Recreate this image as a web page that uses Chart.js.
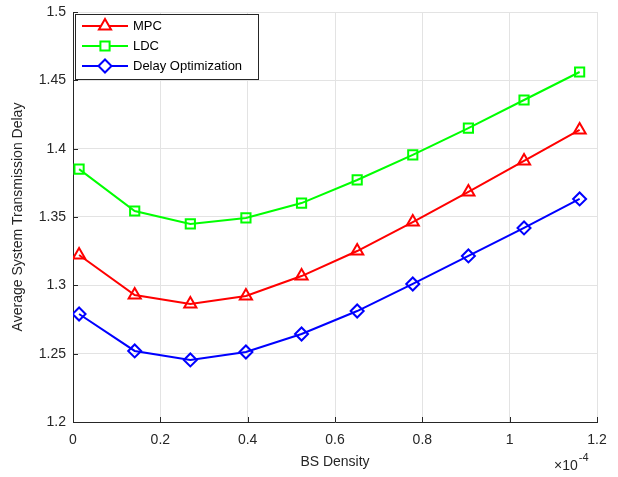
<!DOCTYPE html>
<html>
<head>
<meta charset="utf-8">
<script src="https://cdn.jsdelivr.net/npm/chart.js@4"></script>
<style>
  html, body { margin: 0; padding: 0; background: #fff; }
  #wrap { width: 618px; height: 477px; }
</style>
</head>
<body>
<div id="wrap"><canvas id="myChart" width="618" height="477"></canvas></div>
<script>
// BS density (x 1e-4)
const density = [0.0139, 0.1413, 0.2687, 0.396, 0.5234, 0.6508, 0.7781, 0.9055, 1.0329, 1.1602];
const mpc = [1.3222, 1.2929, 1.2863, 1.2922, 1.3068, 1.3251, 1.3463, 1.3683, 1.3910, 1.4137];
const ldc = [1.3850, 1.3544, 1.3449, 1.3493, 1.3602, 1.3771, 1.3954, 1.4151, 1.4356, 1.4561];
const delayOpt = [1.2790, 1.2520, 1.2454, 1.2512, 1.2644, 1.2812, 1.3010, 1.3215, 1.3420, 1.3632];
const seriesNames = ['MPC', 'LDC', 'Delay Optimization'];
const xLabel = 'BS Density';
const yLabel = 'Average System Transmission Delay';

const FONT = "'Liberation Sans', Arial, Helvetica, sans-serif";
const AXIS = '#262626';

function pts(ys) {
    return ys.map((y, i) => ({x: density[i], y: y}));
}

const data = {
    datasets: [{
        label: seriesNames[0],
        data: pts(mpc),
        borderColor: '#ff0000',
        pointStyle: 'triangle',
        pointRadius: 7
    }, {
        label: seriesNames[1],
        data: pts(ldc),
        borderColor: '#00ff00',
        pointStyle: 'rect',
        pointRadius: 6.5
    }, {
        label: seriesNames[2],
        data: pts(delayOpt),
        borderColor: '#0000ff',
        pointStyle: 'rectRot',
        pointRadius: 6.5
    }]
};
data.datasets.forEach(d => {
    d.borderWidth = 2;
    d.pointBorderColor = d.borderColor;
    d.pointBackgroundColor = 'rgba(0,0,0,0)';
    d.pointBorderWidth = 2;
    d.pointHoverRadius = d.pointRadius;
    d.tension = 0;
});

// inward ticks, axis titles, exponent and legend box
const extras = {
    id: 'extras',
    afterDraw(chart) {
        const ctx = chart.ctx;
        const a = chart.chartArea;
        const xs = chart.scales.x, ys = chart.scales.y;
        ctx.save();
        ctx.strokeStyle = AXIS;
        ctx.lineWidth = 1;
        ctx.beginPath();
        xs.ticks.forEach(t => {
            const px = Math.round(xs.getPixelForValue(t.value)) + 0.5;
            ctx.moveTo(px, a.bottom); ctx.lineTo(px, a.bottom - 5);
        });
        ys.ticks.forEach(t => {
            const py = Math.round(ys.getPixelForValue(t.value)) + 0.5;
            ctx.moveTo(a.left, py); ctx.lineTo(a.left + 5, py);
        });
        ctx.stroke();

        ctx.fillStyle = AXIS;
        ctx.font = '14px ' + FONT;
        ctx.textAlign = 'center';
        ctx.textBaseline = 'middle';
        ctx.fillText(xLabel, (a.left + a.right) / 2, 462);
        ctx.save();
        ctx.translate(18, (a.top + a.bottom) / 2);
        ctx.rotate(-Math.PI / 2);
        ctx.fillText(yLabel, 0, 0);
        ctx.restore();

        // x10^-4 exponent
        ctx.font = '14px ' + FONT;
        ctx.textAlign = 'left';
        ctx.fillText('\u00d710', 554, 466);
        const w = ctx.measureText('\u00d710').width;
        ctx.font = '11px ' + FONT;
        ctx.fillText('-4', 554 + w + 1, 458);

        // legend
        const lx = 75, ly = 14, lw = 183, lh = 65;
        ctx.fillStyle = '#fff';
        ctx.fillRect(lx, ly, lw, lh);
        ctx.lineWidth = 1;
        ctx.strokeStyle = AXIS;
        ctx.strokeRect(lx + 0.5, ly + 0.5, lw, lh);
        chart.data.datasets.forEach((d, i) => {
            const cy = 26 + i * 20;
            ctx.strokeStyle = d.borderColor;
            ctx.lineWidth = 2;
            ctx.beginPath();
            ctx.moveTo(82, cy); ctx.lineTo(128, cy);
            ctx.stroke();
            ctx.fillStyle = '#fff';
            Chart.helpers.drawPoint(ctx, {
                pointStyle: d.pointStyle,
                radius: d.pointRadius,
                borderWidth: 2,
                rotation: 0
            }, 105, cy);
            ctx.fillStyle = '#000';
            ctx.font = '13px ' + FONT;
            ctx.textAlign = 'left';
            ctx.fillText(d.label, 133, cy);
        });
        ctx.restore();
    }
};

function fmt(v) {
    return String(Math.round(v * 100) / 100);
}

const conf = {
    type: 'line',
    data: data,
    options: {
        responsive: false,
        animation: false,
        layout: {padding: {top: 12, right: 21, left: 0, bottom: 0}},
        plugins: {legend: {display: false}, tooltip: {enabled: false}},
        scales: {
            x: {
                type: 'linear',
                min: 0,
                max: 1.2,
                ticks: {stepSize: 0.2, color: AXIS, font: {family: FONT, size: 14}, padding: 10, maxRotation: 0, callback: fmt},
                grid: {color: '#e3e3e3', drawTicks: false},
                border: {color: AXIS, width: 1},
                afterFit(s) { s.height = 55; s.paddingLeft = 0; s.paddingRight = 0; }
            },
            y: {
                type: 'linear',
                min: 1.2,
                max: 1.5,
                ticks: {stepSize: 0.05, color: AXIS, font: {family: FONT, size: 14}, padding: 7, callback: fmt},
                grid: {color: '#e3e3e3', drawTicks: false},
                border: {color: AXIS, width: 1},
                afterFit(s) { s.width = 73; s.paddingTop = 0; s.paddingBottom = 0; }
            }
        }
    },
    plugins: [extras]
};

const ctx = document.getElementById('myChart').getContext('2d');
const chart = new Chart(ctx, conf);
</script>
</body>
</html>
